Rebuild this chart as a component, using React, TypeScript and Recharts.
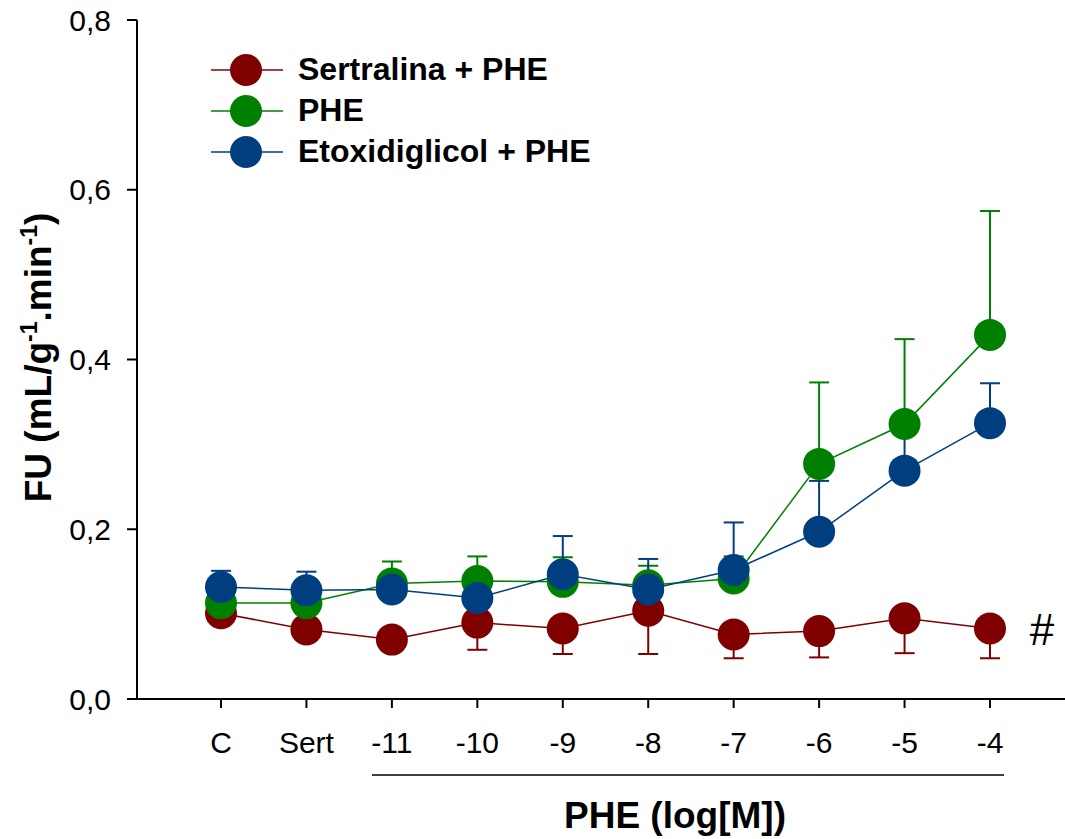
import { LineChart, Line, XAxis, YAxis, ErrorBar, Legend, LabelList, Label } from 'recharts';

// x categories: control, sertraline, then PHE concentrations (log[M])
const categories = ['C', 'Sert', '-11', '-10', '-9', '-8', '-7', '-6', '-5', '-4'];

const seriesNames = ['Sertralina + PHE', 'PHE', 'Etoxidiglicol + PHE'];

const sertValues = [0.101, 0.082, 0.070, 0.090, 0.083, 0.104, 0.076, 0.080, 0.095, 0.083];
const sertErr = [0.010, 0.010, 0.012, 0.032, 0.030, 0.051, 0.028, 0.031, 0.041, 0.035];

const pheValues = [0.113, 0.113, 0.136, 0.139, 0.138, 0.134, 0.142, 0.277, 0.324, 0.429];
const pheErr = [0.010, 0.010, 0.026, 0.029, 0.029, 0.023, 0.026, 0.096, 0.100, 0.146];

const etoValues = [0.132, 0.128, 0.129, 0.119, 0.147, 0.129, 0.152, 0.197, 0.269, 0.325];
const etoErr = [0.019, 0.022, 0.021, 0.022, 0.045, 0.036, 0.056, 0.060, 0.051, 0.047];

const yTicks = [0, 0.2, 0.4, 0.6, 0.8];

const RED = '#800000';
const GREEN = '#008000';
const BLUE = '#003f7f';
const FONT = '"Liberation Sans", Arial, sans-serif';

// sertraline bars go down only, the others go up only
const data = categories.map((cat, i) => ({
  cat,
  sert: sertValues[i],
  sertErr: [sertErr[i], 0],
  phe: pheValues[i],
  pheErr: [0, pheErr[i]],
  eto: etoValues[i],
  etoErr: [0, etoErr[i]],
}));

const formatTick = (v: number) => v.toFixed(1).replace('.', ',');

const LegendContent = ({ payload }: any) => {
  const items = [...(payload || [])].sort(
    (a: any, b: any) => seriesNames.indexOf(a.value) - seriesNames.indexOf(b.value)
  );
  return (
    <div style={{ fontFamily: FONT }}>
      {items.map((p: any) => (
        <div key={p.value} style={{ display: 'flex', alignItems: 'center', height: 41 }}>
          <svg width={76} height={36} style={{ marginRight: 13, flexShrink: 0 }}>
            <line x1={2} y1={18} x2={74} y2={18} stroke={p.color} strokeWidth={1.5} />
            <circle cx={37} cy={18} r={16} fill={p.color} />
          </svg>
          <span style={{ fontSize: 32, fontWeight: 'bold', color: '#000', whiteSpace: 'nowrap' }}>{p.value}</span>
        </div>
      ))}
    </div>
  );
};

const YTitle = ({ viewBox }: any) => {
  const bx = 51;
  const cy = viewBox.y + viewBox.height / 2 - 2;
  return (
    <text
      x={bx}
      y={cy}
      transform={`rotate(-90, ${bx}, ${cy})`}
      textAnchor="middle"
      fontFamily={FONT}
      fontWeight="bold"
      fontSize={37}
      fill="#000"
    >
      FU (mL/g
      <tspan dy={-14} fontSize={23}>-1</tspan>
      <tspan dy={14}>.min</tspan>
      <tspan dy={-14} fontSize={23}>-1</tspan>
      <tspan dy={14}>)</tspan>
    </text>
  );
};

const XTitle = ({ viewBox }: any) => {
  const left = viewBox.x + 235;
  const right = viewBox.x + 867;
  return (
    <g>
      <line x1={left} y1={viewBox.y + 76} x2={right} y2={viewBox.y + 76} stroke="#000" strokeWidth={1.5} />
      <text
        x={viewBox.x + 538}
        y={viewBox.y + 129}
        textAnchor="middle"
        fontFamily={FONT}
        fontWeight="bold"
        fontSize={37}
        fill="#000"
      >
        PHE (log[M])
      </text>
    </g>
  );
};

const HashMark = ({ x, y, index }: any) =>
  index === categories.length - 1 ? (
    <text x={x + 52} y={y + 16} textAnchor="middle" fontFamily={FONT} fontSize={44} fill="#000">
      #
    </text>
  ) : null;

export default function App() {
  return (
    <div style={{ position: 'absolute', left: 0, top: 0, background: '#fff', fontFamily: FONT }}>
      <LineChart width={1065} height={839} data={data} margin={{ top: 20, right: 0, bottom: 0, left: 0 }}>
        <XAxis
          dataKey="cat"
          height={140}
          padding={{ left: 84, right: 75 }}
          axisLine={{ stroke: '#000', strokeWidth: 2 }}
          tickLine={{ stroke: '#000', strokeWidth: 2 }}
          tickSize={9}
          tickMargin={24}
          tick={{ fill: '#000', fontSize: 30, fontFamily: FONT }}
          interval={0}
        >
          <Label content={<XTitle />} />
        </XAxis>
        <YAxis
          width={137}
          domain={[0, 0.8]}
          ticks={yTicks}
          tickFormatter={formatTick}
          axisLine={{ stroke: '#000', strokeWidth: 2 }}
          tickLine={{ stroke: '#000', strokeWidth: 2 }}
          tickSize={10}
          tickMargin={16}
          tick={{ fill: '#000', fontSize: 30, fontFamily: FONT }}
        >
          <Label content={<YTitle />} />
        </YAxis>
        <Legend
          layout="horizontal"
          align="center"
          verticalAlign="middle"
          content={<LegendContent />}
          wrapperStyle={{ left: 209, top: 49, width: 480 }}
        />
        <Line
          name={seriesNames[0]}
          dataKey="sert"
          stroke={RED}
          strokeWidth={1.5}
          dot={{ r: 16, fill: RED, stroke: 'none' }}
          isAnimationActive={false}
        >
          <ErrorBar dataKey="sertErr" direction="y" width={10} stroke={RED} strokeWidth={2} />
          <LabelList dataKey="sert" content={<HashMark />} />
        </Line>
        <Line
          name={seriesNames[1]}
          dataKey="phe"
          stroke={GREEN}
          strokeWidth={1.5}
          dot={{ r: 16, fill: GREEN, stroke: 'none' }}
          isAnimationActive={false}
        >
          <ErrorBar dataKey="pheErr" direction="y" width={10} stroke={GREEN} strokeWidth={2} />
        </Line>
        <Line
          name={seriesNames[2]}
          dataKey="eto"
          stroke={BLUE}
          strokeWidth={1.5}
          dot={{ r: 16, fill: BLUE, stroke: 'none' }}
          isAnimationActive={false}
        >
          <ErrorBar dataKey="etoErr" direction="y" width={10} stroke={BLUE} strokeWidth={2} />
        </Line>
      </LineChart>
    </div>
  );
}
